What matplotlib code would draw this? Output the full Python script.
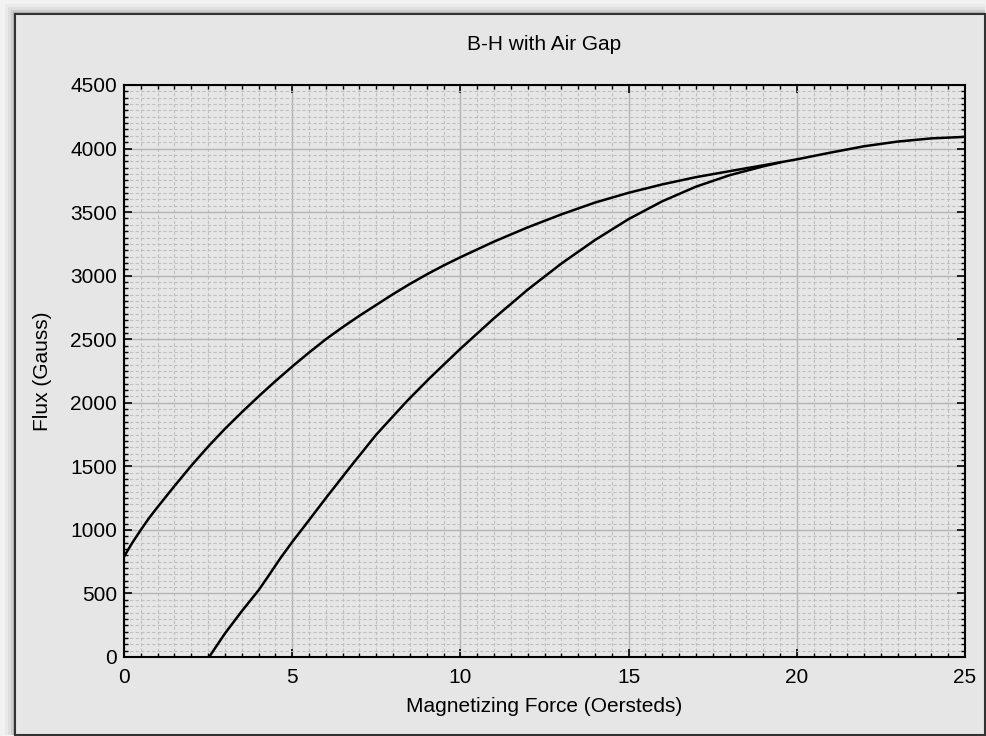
import numpy as np
import matplotlib
matplotlib.use("Agg")
import matplotlib.pyplot as plt
from matplotlib.patches import Rectangle
from matplotlib.ticker import MultipleLocator

plt.rcParams["font.family"] = ["Liberation Sans", "DejaVu Sans"]

# upper branch of the B-H loop
h_up = [0, 0.25, 0.5, 0.75, 1, 1.5, 2, 2.5, 3, 3.5, 4, 4.5, 5, 5.5, 6, 6.5,
        7, 7.5, 8, 8.5, 9, 9.5, 10, 11, 12, 13, 14, 15, 16, 17, 18, 19, 20,
        21, 22, 23, 24, 25]
b_up = [790, 900, 1000, 1095, 1180, 1345, 1505, 1655, 1795, 1925, 2050,
        2170, 2285, 2395, 2500, 2595, 2685, 2770, 2855, 2935, 3010, 3080,
        3145, 3268, 3380, 3482, 3575, 3652, 3718, 3775, 3822, 3868, 3915,
        3968, 4018, 4055, 4080, 4092]

# lower branch
h_lo = [2.53, 3.0, 3.5, 4.0, 4.3, 4.63, 5, 5.38, 6, 6.71, 7.5, 8.4, 9.09,
        10, 11, 12, 13, 14, 15, 16, 17, 18, 19, 19.5]
b_lo = [0, 185, 360, 525, 640, 770, 905, 1035, 1250, 1490, 1750, 2010,
        2195, 2425, 2665, 2890, 3095, 3280, 3445, 3585, 3700, 3790, 3860,
        3890]

W, H = 986, 736
fig = plt.figure(figsize=(W / 100, H / 100), dpi=100)
fig.patch.set_facecolor("#f2f2f2")

# drop shadow + panel
for k, a in [(10, 0.03), (7, 0.05), (4, 0.08), (2, 0.12)]:
    fig.patches.append(Rectangle(((15 - k) / W, 1 / H), (970 + k) / W, (721 + k) / H,
                                 transform=fig.transFigure, facecolor="black",
                                 alpha=a, edgecolor="none", zorder=0))
fig.patches.append(Rectangle((15 / W, 1 / H), 970 / W, 721 / H,
                             transform=fig.transFigure, facecolor="#e6e6e6",
                             edgecolor="#333333", linewidth=1.5, zorder=1))

ax = fig.add_axes([124 / W, 1 - 657 / H, (965 - 124) / W, (657 - 85) / H])
ax.set_facecolor("#e6e6e6")
ax.set_zorder(2)

ax.plot(h_up, b_up, color="black", lw=1.8)
ax.plot(h_lo, b_lo, color="black", lw=1.8)

ax.set_xlim(0, 25)
ax.set_ylim(0, 4500)
ax.xaxis.set_major_locator(MultipleLocator(5))
ax.xaxis.set_minor_locator(MultipleLocator(0.5))
ax.yaxis.set_major_locator(MultipleLocator(500))
ax.yaxis.set_minor_locator(MultipleLocator(50))

ax.grid(which="major", color="#b4b4b4", lw=1.0, ls="-")
ax.grid(which="minor", color="#c0c0c0", lw=0.8, ls=(0, (3, 2)))
ax.set_axisbelow(True)

ax.tick_params(which="both", direction="in", top=True, right=True, colors="black")
ax.tick_params(which="major", length=6, width=1.2, labelsize=15)
ax.tick_params(axis="x", which="major", pad=8)
ax.tick_params(axis="y", which="major", pad=5)
ax.tick_params(which="minor", length=3, width=1.0)
for s in ax.spines.values():
    s.set_linewidth(1.5)
    s.set_color("black")

fig.text(544 / W, 1 - 45 / H, "B-H with Air Gap", fontsize=15,
         ha="center", va="center")
fig.text(544 / W, 1 - 707 / H, "Magnetizing Force (Oersteds)", fontsize=15,
         ha="center", va="center")
fig.text(42 / W, 1 - 371 / H, "Flux (Gauss)", fontsize=15, rotation=90,
         ha="center", va="center")

fig.savefig("out.png", dpi=100, facecolor=fig.get_facecolor())
